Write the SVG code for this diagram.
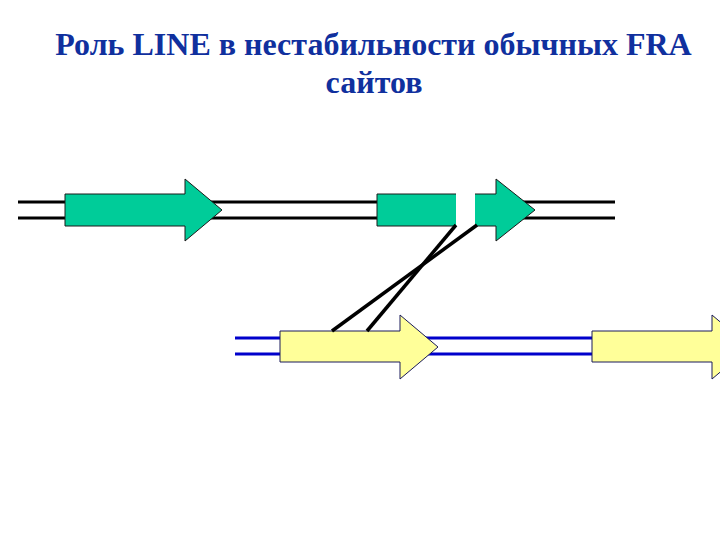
<svg xmlns="http://www.w3.org/2000/svg" width="720" height="540" viewBox="0 0 720 540">
  <style>
    .title { font-family: "Liberation Serif", "Times New Roman", serif; font-weight: bold; font-size: 32px; fill: #10309e; text-anchor: middle; }
    .dnaTop { stroke: #000000; stroke-width: 3; fill: none; }
    .dnaBot { stroke: #0000cc; stroke-width: 3; fill: none; }
    .green { fill: #00cc99; stroke: #1a1a1a; stroke-width: 1; }
    .yellow { fill: #ffff99; stroke: #1a1a5a; stroke-width: 1; }
    .cross { stroke: #000000; stroke-width: 3.5; fill: none; }
  </style>
  <rect width="720" height="540" fill="#ffffff"/>
  <g id="title">
    <text class="title" x="373.5" y="55">Роль LINE в нестабильности обычных FRA</text>
    <text class="title" x="374" y="93">сайтов</text>
  </g>
  <g id="chromosome-top">
    <line class="dnaTop" x1="18" y1="202" x2="615" y2="202"/>
    <line class="dnaTop" x1="18" y1="218" x2="615" y2="218"/>
  </g>
  <g id="chromosome-bottom">
    <line class="dnaBot" x1="235" y1="338" x2="720" y2="338"/>
    <line class="dnaBot" x1="235" y1="354" x2="720" y2="354"/>
  </g>
  <g id="line-1">
    <polygon class="green" points="65,194 185,194 185,179 222,210 185,241 185,226 65,226"/>
  </g>
  <g id="line-2">
    <polygon class="green" points="377,194 496,194 496,179 535,210 496,241 496,226 377,226"/>
    <rect x="456" y="193" width="19" height="34" fill="#ffffff"/>
  </g>
  <g id="line-3">
    <polygon class="yellow" points="280,331 400,331 400,315 438,347 400,379 400,362 280,362"/>
  </g>
  <g id="line-4">
    <polygon class="yellow" points="592,331 712,331 712,315 750,347 712,379 712,362 592,362"/>
  </g>
  <g id="connectors">
    <line class="cross" x1="456" y1="225" x2="367" y2="331"/>
    <line class="cross" x1="477" y1="225" x2="332" y2="331"/>
  </g>
</svg>
